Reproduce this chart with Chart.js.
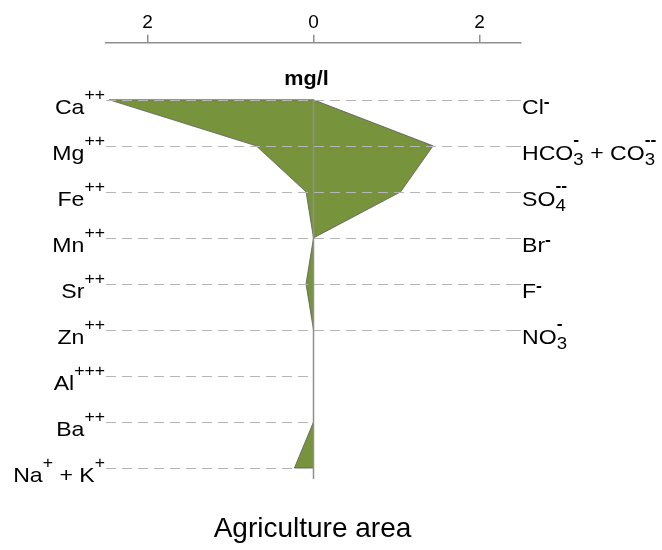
<!DOCTYPE html>
<html>
<head>
<meta charset="utf-8">
<script src="https://cdn.jsdelivr.net/npm/chart.js@4.4.0/dist/chart.umd.min.js"></script>
<style>
  html, body { margin: 0; padding: 0; background: #fff; }
  #wrap { width: 662px; height: 550px; }
</style>
</head>
<body>
<div id="wrap"><canvas id="chart"></canvas></div>
<script>
// cations on the left, anions on the right (mg/l)
const cationLabels = [
  [{ t: 'Ca' }, { sup: '++' }],
  [{ t: 'Mg' }, { sup: '++' }],
  [{ t: 'Fe' }, { sup: '++' }],
  [{ t: 'Mn' }, { sup: '++' }],
  [{ t: 'Sr' }, { sup: '++' }],
  [{ t: 'Zn' }, { sup: '++' }],
  [{ t: 'Al' }, { sup: '+++' }],
  [{ t: 'Ba' }, { sup: '++' }],
  [{ t: 'Na' }, { sup: '+' }, { t: ' + K' }, { sup: '+' }]
];
const cationValues = [2.46, 0.69, 0.09, 0, 0.09, 0, 0, 0, 0.23];

const anionLabels = [
  [{ t: 'Cl' }, { sup: '-' }],
  [{ t: 'HCO' }, { sub: '3', sup: '-' }, { t: ' + CO' }, { sub: '3', sup: '--' }],
  [{ t: 'SO' }, { sub: '4', sup: '--' }],
  [{ t: 'Br' }, { sup: '-' }],
  [{ t: 'F' }, { sup: '-' }],
  [{ t: 'NO' }, { sub: '3', sup: '-' }]
];
const anionValues = [0, 1.44, 1.05, 0, 0, 0];

const xTicks = [-2, 0, 2];
const unitLabel = 'mg/l';
const areaTitle = 'Agriculture area';

const rowCount = cationValues.length;

// stiff polygon: cations top->bottom on the left, anions bottom->top on the right
const shape = [];
cationValues.forEach((v, i) => shape.push({ x: -v, y: i }));
for (let i = rowCount - 1; i >= 0; i--) shape.push({ x: anionValues[i] ?? 0, y: i });
shape.push(shape[0]);

const FONT = '"Liberation Sans", Arial, sans-serif';
const SX = 1.1; // labels in the original are a bit wide

function partWidth(ctx, p) {
  if (p.t) { ctx.font = '21px ' + FONT; return ctx.measureText(p.t).width * SX; }
  ctx.font = '16px ' + FONT;
  let w = p.sup ? ctx.measureText(p.sup).width : 0;
  if (p.sub) { ctx.font = '17px ' + FONT; w = Math.max(w, ctx.measureText(p.sub).width); }
  return w * SX;
}

function drawLabel(ctx, parts, x, rowY, alignRight) {
  let total = 0;
  parts.forEach(p => total += partWidth(ctx, p));
  let cx = alignRight ? x - total : x;
  parts.forEach(p => {
    const w = partWidth(ctx, p);
    ctx.save();
    ctx.translate(cx, 0);
    ctx.scale(SX, 1);
    ctx.textAlign = 'left';
    ctx.textBaseline = 'alphabetic';
    if (p.t) {
      ctx.font = '21px ' + FONT;
      ctx.fillText(p.t, 0, rowY + 14);
    } else {
      if (p.sub) {
        ctx.font = '17px ' + FONT;
        ctx.fillText(p.sub, 0, rowY + 19);
      }
      ctx.font = 'bold 16px ' + FONT;
      if (p.sup.includes('+')) ctx.font = '16px ' + FONT;
      const dy = p.sub ? -1 : (p.sup.includes('+') ? 0 : 7);
      ctx.fillText(p.sup, 0, rowY + dy);
    }
    ctx.restore();
    cx += w;
  });
}

const stiffDecor = {
  id: 'stiffDecor',
  afterDatasetsDraw(chart) {
    const { ctx, chartArea: { top, bottom, left, right }, scales: { x, y } } = chart;
    const x0 = x.getPixelForValue(0);
    ctx.save();

    // dashed row lines
    ctx.strokeStyle = '#b5b5b5';
    ctx.lineWidth = 1;
    ctx.setLineDash([10, 6]);
    for (let i = 0; i < rowCount; i++) {
      const yy = Math.round(y.getPixelForValue(i)) + 0.5;
      ctx.beginPath();
      ctx.moveTo(x.getPixelForValue(x.min), yy);
      ctx.lineTo(x0, yy);
      if (i < anionLabels.length) ctx.lineTo(x.getPixelForValue(x.max) - 8, yy);
      ctx.stroke();
    }
    ctx.setLineDash([]);
    for (let i = 0; i < anionLabels.length; i++) {
      const yy = Math.round(y.getPixelForValue(i)) + 0.5;
      ctx.beginPath();
      ctx.moveTo(x.getPixelForValue(x.max) - 8, yy);
      ctx.lineTo(x.getPixelForValue(x.max), yy);
      ctx.stroke();
    }

    // zero line
    ctx.strokeStyle = '#8f8f8f';
    ctx.lineWidth = 1.5;
    ctx.beginPath();
    ctx.moveTo(x0, y.getPixelForValue(0));
    ctx.lineTo(x0, bottom);
    ctx.stroke();

    // ion labels
    ctx.fillStyle = '#000';
    cationLabels.forEach((parts, i) => drawLabel(ctx, parts, left - 1, y.getPixelForValue(i), true));
    anionLabels.forEach((parts, i) => drawLabel(ctx, parts, right + 1, y.getPixelForValue(i), false));

    // unit and area title
    ctx.save();
    ctx.font = 'bold 20px ' + FONT;
    ctx.textAlign = 'center';
    ctx.translate(x0 - 7, 85);
    ctx.scale(1.08, 1);
    ctx.fillText(unitLabel, 0, 0);
    ctx.restore();

    ctx.font = '28px ' + FONT;
    ctx.textAlign = 'center';
    ctx.fillText(areaTitle, x0 - 1, 537);
    ctx.restore();
  }
};

const ctx = document.getElementById('chart');
new Chart(ctx, {
  type: 'scatter',
  data: {
    datasets: [{
      data: shape,
      showLine: true,
      fill: 'shape',
      backgroundColor: '#77933c',
      borderColor: 'rgba(95,95,95,0.85)',
      borderWidth: 1,
      pointRadius: 0,
      tension: 0
    }]
  },
  options: {
    responsive: true,
    maintainAspectRatio: false,
    animation: false,
    events: [],
    layout: { padding: { left: 106, right: 141, top: 10, bottom: 71 } },
    plugins: { legend: { display: false }, tooltip: { enabled: false } },
    scales: {
      x: {
        type: 'linear',
        position: 'top',
        min: -2.5,
        max: 2.5,
        afterBuildTicks: scale => { scale.ticks = xTicks.map(v => ({ value: v })); },
        ticks: {
          color: '#000',
          font: { size: 19, family: FONT },
          padding: 1,
          callback: v => String(Math.abs(v))
        },
        grid: { drawOnChartArea: false, drawTicks: true, tickLength: 8, color: '#8f8f8f', lineWidth: 1.5 },
        border: { color: '#8f8f8f', width: 1.5 }
      },
      y: {
        type: 'linear',
        reverse: true,
        min: -57 / 46,
        max: 8 + 11 / 46,
        display: false
      }
    }
  },
  plugins: [stiffDecor]
});
</script>
</body>
</html>
